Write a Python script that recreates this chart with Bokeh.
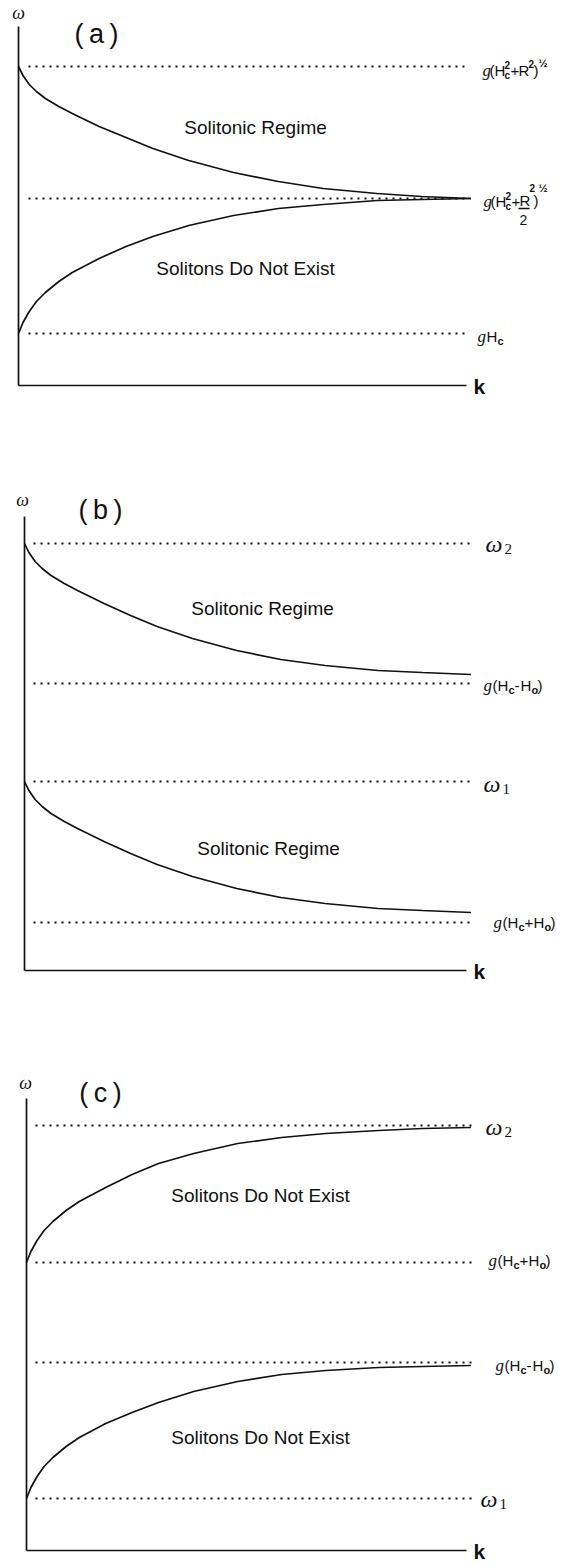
from bokeh.plotting import figure
from bokeh.layouts import column
from bokeh.models import Label
from bokeh.embed import file_html
from bokeh.resources import INLINE

# ---------------- data ----------------
K = [0, 0.05, 0.12, 0.2, 0.3, 0.45, 0.6, 0.9, 1.2, 1.5, 1.9, 2.4, 2.9, 3.4, 4.0, 4.5, 5.05]

# panel (a): g(Hc^2+R^2)^1/2, g(Hc^2+R^2/2)^1/2, gHc
a_levels = [3.19, 1.87, 0.52]
a_upper = [3.19, 3.10, 3.01, 2.94, 2.87, 2.79, 2.72, 2.59, 2.48, 2.37, 2.25, 2.13, 2.04, 1.97, 1.92, 1.89, 1.87]
a_lower = [0.52, 0.63, 0.74, 0.84, 0.93, 1.04, 1.13, 1.27, 1.39, 1.49, 1.60, 1.70, 1.77, 1.81, 1.85, 1.86, 1.87]

# panel (b): w2, g(Hc-Ho), w1, g(Hc+Ho)
b_levels = [4.27, 2.87, 1.89, 0.48]
b_upper = [4.27, 4.18, 4.09, 4.02, 3.95, 3.87, 3.80, 3.67, 3.55, 3.44, 3.32, 3.20, 3.11, 3.05, 3.00, 2.98, 2.96]
b_lower = [1.89, 1.80, 1.71, 1.64, 1.57, 1.49, 1.42, 1.29, 1.17, 1.06, 0.94, 0.82, 0.73, 0.67, 0.62, 0.60, 0.58]

# panel (c): w2, g(Hc+Ho), g(Hc-Ho), w1
c_levels = [4.25, 2.88, 1.88, 0.52]
c_upper = [2.88, 2.99, 3.10, 3.20, 3.29, 3.40, 3.49, 3.63, 3.76, 3.87, 3.97, 4.07, 4.13, 4.17, 4.20, 4.22, 4.23]
c_lower = [0.52, 0.63, 0.74, 0.84, 0.93, 1.04, 1.13, 1.27, 1.38, 1.48, 1.59, 1.69, 1.76, 1.80, 1.83, 1.84, 1.85]

regime_a = ["Solitonic Regime", "Solitons Do Not Exist"]
regime_b = ["Solitonic Regime", "Solitonic Regime"]
regime_c = ["Solitons Do Not Exist", "Solitons Do Not Exist"]

# ---------------- layout ----------------
SANS = "Liberation Sans"
SERIF = "Liberation Serif"
INK = "#111111"
PPW = 100.0  # px per omega unit
W = 571

A = dict(top=0, h=460, ax=18, ay=385, ppk=89.6, atop=26)
B = dict(top=460, h=580, ax=24, ay=970, ppk=88.4, atop=516)
C = dict(top=1040, h=524, ax=26, ay=1550, ppk=88.0, atop=1098)

REG = 19


def kx(P, x):
    return (x - P["ax"]) / P["ppk"]


def wy(P, y):
    return (P["ay"] - y) / PPW


def make(P):
    p = figure(width=W, height=P["h"],
               x_range=(kx(P, 0), kx(P, W)),
               y_range=(wy(P, P["top"] + P["h"]), wy(P, P["top"])),
               output_backend="svg", toolbar_location=None,
               x_axis_location=None, y_axis_location=None,
               min_border=0, min_border_left=0, min_border_right=0,
               min_border_top=0, min_border_bottom=0)
    p.grid.visible = False
    p.outline_line_color = None
    p.background_fill_color = "white"
    p.border_fill_color = "white"
    # axes
    p.line([0, kx(P, 466)], [0, 0], line_color=INK, line_width=1.7)
    p.line([0, 0], [0, wy(P, P["atop"])], line_color=INK, line_width=1.7)
    return p


def put(p, P, x, y, s, size, font=SANS, style="normal", align="left"):
    p.add_layout(Label(x=kx(P, x), y=wy(P, y), text=s, text_font=font,
                       text_font_size=f"{size}px", text_font_style=style,
                       text_align=align, text_baseline="middle",
                       text_color=INK))


def dashed(p, P, lv, x0, x1=470):
    p.line([kx(P, x0), kx(P, x1)], [lv, lv], line_color=INK, line_width=1.8,
           line_dash="2 5")


def g_pm(p, P, x0, yc, sign):
    sw = 9 if sign == "+" else 6
    put(p, P, x0, yc, "g", 17, SERIF, "italic")
    put(p, P, x0 + 9, yc, "(", 15)
    put(p, P, x0 + 14, yc, "H", 15)
    put(p, P, x0 + 25, yc + 4, "c", 11, SANS, "bold")
    put(p, P, x0 + 31, yc, sign, 15)
    put(p, P, x0 + 31 + sw, yc, "H", 15)
    put(p, P, x0 + 42 + sw, yc + 4, "o", 11, SANS, "bold")
    put(p, P, x0 + 48 + sw, yc, ")", 15)


def omega_lbl(p, P, x0, yc, n):
    put(p, P, x0, yc, "ω", 24, SERIF, "italic")
    put(p, P, x0 + 19, yc + 5, n, 15, SERIF)


def common(p, P, letter, lx, ly, wx, wyy):
    put(p, P, lx, ly, letter, 27, SANS, "normal", "center")
    put(p, P, wx, wyy, "ω", 18, SERIF, "italic", "center")
    put(p, P, 473, P["ay"] + 1, "k", 21, SANS, "bold")


# ---------------- panel (a) ----------------
pa = make(A)
for lv in a_levels:
    dashed(pa, A, lv, 28, 464)
pa.line(K, a_upper, line_color=INK, line_width=1.7)
pa.line(K, a_lower, line_color=INK, line_width=1.7)
common(pa, A, "(\u2009a\u2009)", 96, 33, 18, 12)
put(pa, A, 255, 127, regime_a[0], REG, SANS, "normal", "center")
put(pa, A, 245, 268, regime_a[1], REG, SANS, "normal", "center")
# g(Hc^2+R^2)^1/2
y = 70
put(pa, A, 482, y, "g", 17, SERIF, "italic")
put(pa, A, 489, y, "(", 15)
put(pa, A, 494, y, "H", 15)
put(pa, A, 504, y + 5, "c", 10, SANS, "bold")
put(pa, A, 504, y - 6, "2", 10, SANS, "bold")
put(pa, A, 510, y, "+", 15)
put(pa, A, 518, y, "R", 15)
put(pa, A, 528, y - 7, "2", 10, SANS, "bold")
put(pa, A, 533, y, ")", 15)
put(pa, A, 538, y - 8, "½", 11, SANS, "bold")
# g(Hc^2+R^2/2)^1/2
y = 201
put(pa, A, 483, y, "g", 17, SERIF, "italic")
put(pa, A, 490, y, "(", 15)
put(pa, A, 495, y, "H", 15)
put(pa, A, 505, y + 5, "c", 10, SANS, "bold")
put(pa, A, 505, y - 6, "2", 10, SANS, "bold")
put(pa, A, 511, y, "+", 15)
put(pa, A, 519, y - 1, "R", 15)
pa.line([kx(A, 518), kx(A, 529)], [wy(A, 208), wy(A, 208)], line_color=INK, line_width=1.3)
put(pa, A, 519, 219, "2", 14, SANS)
put(pa, A, 529, 187, "2", 10, SANS, "bold")
put(pa, A, 533, 200, ")", 15)
put(pa, A, 538, 187, "½", 11, SANS, "bold")
# gHc
put(pa, A, 477, 336, "g", 17, SERIF, "italic")
put(pa, A, 486, 336, "H", 15)
put(pa, A, 497, 340, "c", 11, SANS, "bold")

# ---------------- panel (b) ----------------
pb = make(B)
for lv in b_levels:
    dashed(pb, B, lv, 33, 474)
pb.line(K, b_upper, line_color=INK, line_width=1.7)
pb.line(K, b_lower, line_color=INK, line_width=1.7)
common(pb, B, "(\u2009b\u2009)", 100, 509, 22, 499)
put(pb, B, 262, 608, regime_b[0], REG, SANS, "normal", "center")
put(pb, B, 268, 848, regime_b[1], REG, SANS, "normal", "center")
omega_lbl(pb, B, 485, 543, "2")
g_pm(pb, B, 483, 685, "-")
omega_lbl(pb, B, 483, 783, "1")
g_pm(pb, B, 493, 922, "+")

# ---------------- panel (c) ----------------
pc = make(C)
for lv in c_levels:
    dashed(pc, C, lv, 35, 476)
pc.line(K, c_upper, line_color=INK, line_width=1.7)
pc.line(K, c_lower, line_color=INK, line_width=1.7)
common(pc, C, "(\u2009c\u2009)", 100, 1092, 25, 1082)
put(pc, C, 260, 1195, regime_c[0], REG, SANS, "normal", "center")
put(pc, C, 260, 1437, regime_c[1], REG, SANS, "normal", "center")
omega_lbl(pc, C, 485, 1126, "2")
g_pm(pc, C, 488, 1260, "+")
g_pm(pc, C, 495, 1365, "-")
omega_lbl(pc, C, 480, 1498, "1")

layout = column(pa, pb, pc, spacing=0)
open("out.html", "w").write(file_html(layout, INLINE))
